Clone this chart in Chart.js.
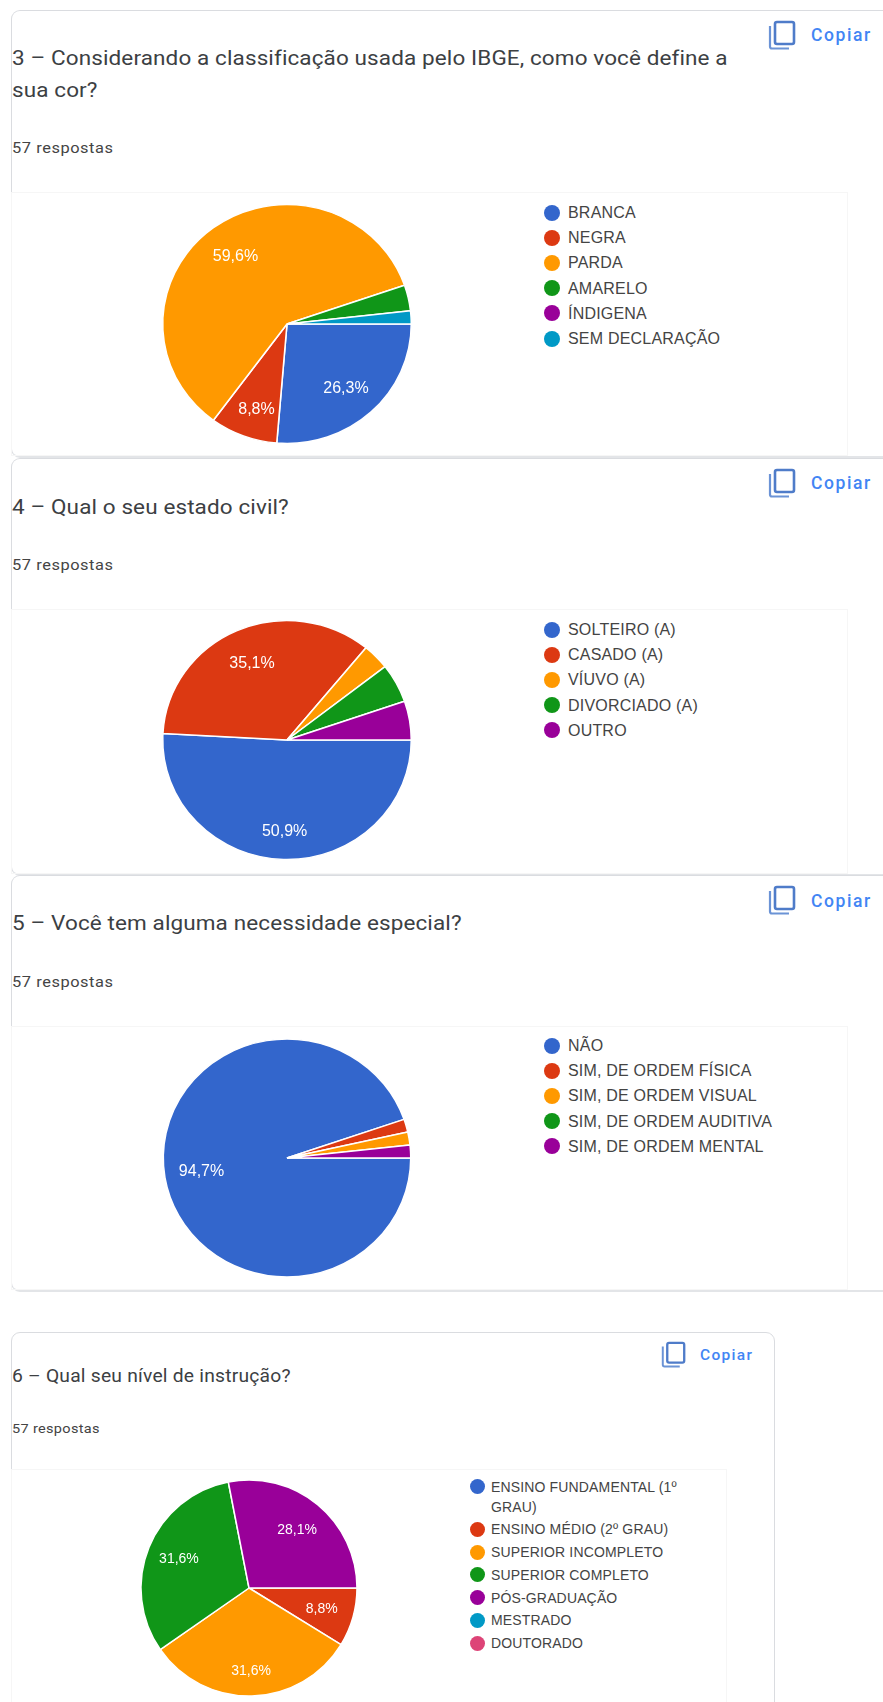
<!DOCTYPE html>
<html lang="pt-BR">
<head>
<meta charset="utf-8">
<title>Respostas</title>
<script src="https://cdn.jsdelivr.net/npm/chart.js@4/dist/chart.umd.min.js"></script>
<style>
  html, body { margin: 0; padding: 0; background: #fff; }
  body { position: relative; width: 883px; height: 1702px; overflow: hidden; font-family: Roboto, sans-serif; color: #3c4043; }
  .card { position: absolute; left: 11px; box-sizing: border-box; border: 1px solid #dadce0; border-radius: 9px; }
  .card-bottom { border-bottom: 2px solid #e3e5e8; }
  .title, .count, .copy-text, .copy-icon, .legend, .plot-box, canvas { position: absolute; }
  .title { left: 12px; font-size: 20px; line-height: 32px; letter-spacing: 0.1px; white-space: nowrap; transform: scaleX(1.125); transform-origin: left center; }
  .title-sm { font-size: 17.5px; letter-spacing: 0.2px; transform: scaleX(1.1); }
  .count { left: 12px; font-size: 14.5px; line-height: 16px; letter-spacing: 0.5px; color: #444; white-space: nowrap; transform: scaleX(1.13); transform-origin: left center; }
  .count-sm { font-size: 13px; letter-spacing: 0.3px; transform: scaleX(1.115); }
  .copy-text { font-size: 17.5px; line-height: 20px; letter-spacing: 1.6px; color: #4285f4; font-weight: 500; }
  .copy-text-sm { font-size: 15.5px; letter-spacing: 1.3px; }
  .copy-icon { width: 28px; height: 30px; }
  .plot-box { left: 11px; box-sizing: border-box; border: 1px solid #f6f6f6; }
  .legend { margin: 0; padding: 0; list-style: none; font-family: "Liberation Sans", sans-serif; color: #444; }
  .legend li { position: relative; }
  .legend i { position: absolute; border-radius: 50%; }
  .legend-lg { font-size: 16px; line-height: 25.2px; left: 544px; letter-spacing: 0.2px; white-space: nowrap; }
  .legend-lg li { padding-left: 24px; }
  .legend-lg i { left: 0; top: 4.6px; width: 16px; height: 16px; }
  .legend-sm { font-size: 14px; line-height: 20px; width: 235px; letter-spacing: 0.15px; left: 470px; }
  .legend-sm li { padding-left: 21px; margin-bottom: 2.8px; }
  .legend-sm i { left: 0; top: 2.5px; width: 15px; height: 15px; }
</style>
</head>
<body>
  <!-- pergunta 3 -->
  <div class="card card-bottom" style="top:10px;width:900px;height:448px"></div>
  <div class="title" style="top:42px">3 – Considerando a classificação usada pelo IBGE, como você define a<br>sua cor?</div>
  <div class="count" style="top:141px">57 respostas</div>
  <div class="copy-text" style="left:811px;top:25px">Copiar</div>
  <svg class="copy-icon" style="left:768px;top:20px" viewBox="0 0 28 30"><use href="#copy"/></svg>
  <div class="plot-box" style="top:192px;width:837px;height:264px"></div>
  <canvas id="chartCor"></canvas>
  <ul class="legend legend-lg" id="legendCor" style="top:200px"></ul>

  <!-- pergunta 4 -->
  <div class="card card-bottom" style="top:458px;width:900px;height:418px"></div>
  <div class="title" style="top:491px">4 – Qual o seu estado civil?</div>
  <div class="count" style="top:558px">57 respostas</div>
  <div class="copy-text" style="left:811px;top:473px">Copiar</div>
  <svg class="copy-icon" style="left:768px;top:468px" viewBox="0 0 28 30"><use href="#copy"/></svg>
  <div class="plot-box" style="top:609px;width:837px;height:265px"></div>
  <canvas id="chartCivil"></canvas>
  <ul class="legend legend-lg" id="legendCivil" style="top:617px"></ul>

  <!-- pergunta 5 -->
  <div class="card card-bottom" style="top:875px;width:900px;height:417px"></div>
  <div class="title" style="top:907px">5 – Você tem alguma necessidade especial?</div>
  <div class="count" style="top:975px">57 respostas</div>
  <div class="copy-text" style="left:811px;top:891px">Copiar</div>
  <svg class="copy-icon" style="left:768px;top:885px" viewBox="0 0 28 30"><use href="#copy"/></svg>
  <div class="plot-box" style="top:1026px;width:837px;height:264px"></div>
  <canvas id="chartEspecial"></canvas>
  <ul class="legend legend-lg" id="legendEspecial" style="top:1033px"></ul>

  <!-- pergunta 6 -->
  <div class="card" style="top:1332px;width:764px;height:420px"></div>
  <div class="title title-sm" style="top:1360px">6 – Qual seu nível de instrução?</div>
  <div class="count count-sm" style="top:1421px">57 respostas</div>
  <div class="copy-text copy-text-sm" style="left:700px;top:1345px">Copiar</div>
  <svg class="copy-icon" style="left:661px;top:1341px;width:25px;height:27px" viewBox="0 0 28 30"><use href="#copy"/></svg>
  <div class="plot-box" style="top:1469px;width:716px;height:280px"></div>
  <canvas id="chartInstrucao"></canvas>
  <ul class="legend legend-sm" id="legendInstrucao" style="top:1476.5px"></ul>

  <svg width="0" height="0" style="position:absolute">
    <symbol id="copy" viewBox="0 0 28 30">
      <path d="M2 6v20.5q0 2 2 2h17" fill="none" stroke="#6b93d6" stroke-width="2.2"/>
      <rect x="7" y="2" width="19" height="22" rx="2" fill="none" stroke="#4f7cc9" stroke-width="2.6"/>
    </symbol>
  </svg>

<script>
// Paleta padrao dos graficos
const pieColors = ['#3366cc', '#dc3912', '#ff9900', '#109618', '#990099', '#0099c6', '#dd4477'];

const corLabels = ['BRANCA', 'NEGRA', 'PARDA', 'AMARELO', 'ÍNDIGENA', 'SEM DECLARAÇÃO'];
const corValues = [15, 5, 34, 2, 0, 1];

const civilLabels = ['SOLTEIRO (A)', 'CASADO (A)', 'VÍUVO (A)', 'DIVORCIADO (A)', 'OUTRO'];
const civilValues = [29, 20, 2, 3, 3];

const especialLabels = ['NÃO', 'SIM, DE ORDEM FÍSICA', 'SIM, DE ORDEM VISUAL', 'SIM, DE ORDEM AUDITIVA', 'SIM, DE ORDEM MENTAL'];
const especialValues = [54, 1, 1, 0, 1];

const instrucaoLabels = ['ENSINO FUNDAMENTAL (1º GRAU)', 'ENSINO MÉDIO (2º GRAU)', 'SUPERIOR INCOMPLETO', 'SUPERIOR COMPLETO', 'PÓS-GRADUAÇÃO', 'MESTRADO', 'DOUTORADO'];
const instrucaoValues = [0, 5, 18, 18, 16, 0, 0];

// Fatias pequenas ficam sem rotulo
const minLabelShare = 0.08;

// Alarga os arcos na horizontal e escreve as porcentagens em cima
const pieExtras = {
  id: 'pieExtras',
  beforeDatasetsDraw(chart, args, opts) {
    const { ctx, width, height } = chart;
    ctx.save();
    ctx.translate(width / 2, height / 2);
    ctx.scale(opts.stretchX, 1);
    ctx.translate(-width / 2, -height / 2);
  },
  afterDatasetsDraw(chart, args, opts) {
    const { ctx, width } = chart;
    ctx.restore();
    const values = chart.data.datasets[0].data;
    const total = values.reduce((a, b) => a + b, 0);
    chart.getDatasetMeta(0).data.forEach((arc, i) => {
      const share = values[i] / total;
      if (share < minLabelShare) return;
      const p = arc.getProps(['x', 'y', 'startAngle', 'endAngle', 'outerRadius'], true);
      const mid = (p.startAngle + p.endAngle) / 2;
      const sin = Math.sin(mid);
      const x = width / 2 + Math.cos(mid) * p.outerRadius * 0.7 * opts.stretchX;
      // rotulos da parte de baixo descem um pouco em direcao a borda
      const y = p.y + sin * p.outerRadius * 0.7 + Math.pow(Math.max(sin, 0), 3) * p.outerRadius * 0.07;
      ctx.save();
      ctx.fillStyle = '#fff';
      ctx.font = opts.labelFont;
      ctx.textAlign = 'center';
      ctx.textBaseline = 'middle';
      ctx.fillText((share * 100).toFixed(1).replace('.', ',') + '%', x, y);
      ctx.restore();
    });
  }
};

function buildLegend(listId, labels) {
  const list = document.getElementById(listId);
  labels.forEach((label, i) => {
    const item = document.createElement('li');
    const dot = document.createElement('i');
    dot.style.background = pieColors[i];
    item.appendChild(dot);
    item.appendChild(document.createTextNode(label));
    list.appendChild(item);
  });
}

function drawPie(canvasId, labels, values, box, radius, stretchX, labelFont) {
  const canvas = document.getElementById(canvasId);
  canvas.style.left = box.left + 'px';
  canvas.style.top = box.top + 'px';
  canvas.width = box.size;
  canvas.height = box.size;
  new Chart(canvas, {
    type: 'pie',
    data: {
      labels: labels,
      datasets: [{
        data: values,
        backgroundColor: pieColors,
        borderColor: '#fff',
        borderWidth: 1.5,
        radius: radius
      }]
    },
    options: {
      responsive: false,
      animation: false,
      rotation: 90,
      plugins: {
        legend: { display: false },
        tooltip: { enabled: false },
        pieExtras: { stretchX: stretchX, labelFont: labelFont }
      }
    },
    plugins: [pieExtras]
  });
}

document.addEventListener('DOMContentLoaded', () => {
  const largeFont = '16px "Liberation Sans", sans-serif';
  const smallFont = '14px "Liberation Sans", sans-serif';

  drawPie('chartCor', corLabels, corValues, { left: 157, top: 194, size: 260 }, 119.5, 1.04, largeFont);
  drawPie('chartCivil', civilLabels, civilValues, { left: 157, top: 610, size: 260 }, 119.5, 1.04, largeFont);
  drawPie('chartEspecial', especialLabels, especialValues, { left: 157, top: 1028, size: 260 }, 119, 1.04, largeFont);
  drawPie('chartInstrucao', instrucaoLabels, instrucaoValues, { left: 134, top: 1473, size: 230 }, 108, 1, smallFont);

  buildLegend('legendCor', corLabels);
  buildLegend('legendCivil', civilLabels);
  buildLegend('legendEspecial', especialLabels);
  buildLegend('legendInstrucao', instrucaoLabels);
});
</script>
</body>
</html>
